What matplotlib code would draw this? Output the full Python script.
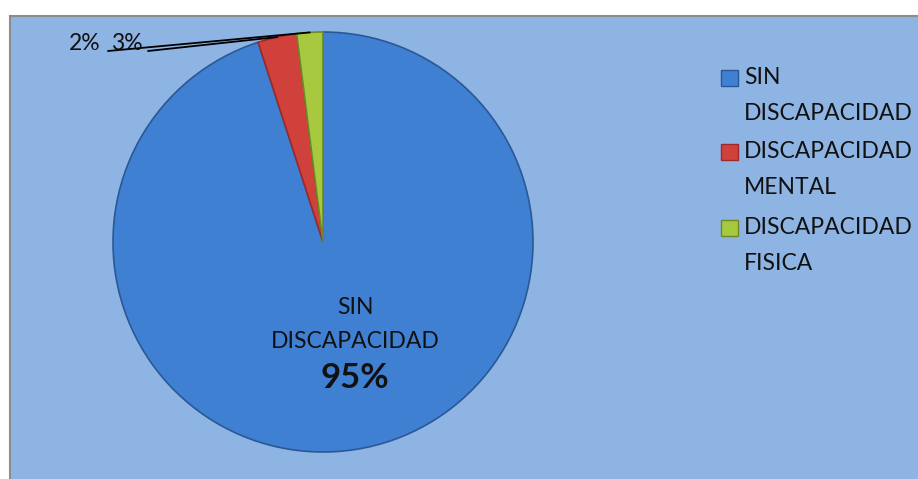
import matplotlib
matplotlib.use("Agg")
import matplotlib.pyplot as plt
import numpy as np
from matplotlib.patches import Rectangle

categories = ["SIN\nDISCAPACIDAD", "DISCAPACIDAD\nMENTAL", "DISCAPACIDAD\nFISICA"]
values = [95, 3, 2]
colors = ["#4080d2", "#d1413b", "#a6c93f"]
edge_colors = ["#2a5896", "#9c2a26", "#6f8a25"]

plt.rcParams['font.family'] = ['Lato', 'DejaVu Sans']

W, H = 918, 479
fig = plt.figure(figsize=(W / 100, H / 100), dpi=100)
fig.patch.set_facecolor("white")


def fx(px):
    return px / W


def fy(py):
    return 1 - py / H


# background panel
bgax = fig.add_axes([9.5 / W, 0, 1 - 9.5 / W + 0.01, (H - 15.5) / H], zorder=0)
bgax.set_facecolor("#8eb4e3")
bgax.set_xticks([])
bgax.set_yticks([])
for name, s in bgax.spines.items():
    if name in ("left", "top"):
        s.set_color("#8c8c8c")
        s.set_linewidth(1.5)
    else:
        s.set_visible(False)

cx, cy, r = 323, H - 242, 210
ax = fig.add_axes([(cx - r) / W, (cy - r) / H, 2 * r / W, 2 * r / H], zorder=1)

wedges, _ = ax.pie(values, colors=colors, startangle=90, counterclock=False, radius=1,
                   wedgeprops=dict(linewidth=1.2))
for w, ec in zip(wedges, edge_colors):
    w.set_edgecolor(ec)
ax.set_xlim(-1, 1)
ax.set_ylim(-1, 1)
ax.set_aspect("equal")
ax.axis("off")

# Main label
fig.text(fx(355), fy(308), "SIN", ha="center", va="center", fontsize=16.5, color="#111111", zorder=5)
fig.text(fx(355), fy(341), "DISCAPACIDAD", ha="center", va="center", fontsize=16.5,
         color="#111111", zorder=5)
fig.text(fx(355), fy(378), f"{values[0]}%", ha="center", va="center", fontsize=25,
         fontweight="bold", color="#111111", zorder=5)

# Small slice labels with leader lines
label_pos = {2: (85, 43), 1: (127, 43)}
line_start = {2: (108, 51), 1: (148, 51)}
for i in (2, 1):
    w = wedges[i]
    ang = np.deg2rad((w.theta1 + w.theta2) / 2)
    x, y = np.cos(ang), np.sin(ang)
    tx, ty = label_pos[i]
    fig.text(fx(tx), fy(ty), f"{values[i]}%", ha="center", va="center", fontsize=16.5,
             color="#111111", zorder=5)
    sx, sy = line_start[i]
    ax.annotate("", xy=(x, y), xytext=(fx(sx), fy(sy)), textcoords=fig.transFigure,
                annotation_clip=False,
                arrowprops=dict(arrowstyle="-", color="black", lw=1.3, shrinkA=0, shrinkB=0))

# Legend (markers aligned with first line of each entry, as in the original)
entry_y = [78, 152, 228]
for lab, col, ec, yy in zip(categories, colors, edge_colors, entry_y):
    fig.patches.append(Rectangle((fx(721), fy(yy + 8)), 17 / W, 16 / H, transform=fig.transFigure,
                                 facecolor=col, edgecolor=ec, linewidth=1, zorder=5))
    first, second = lab.split("\n")
    fig.text(fx(744), fy(yy), first, ha="left", va="center", fontsize=16.5, color="#111111", zorder=5)
    fig.text(fx(744), fy(yy + 35), second, ha="left", va="center", fontsize=16.5, color="#111111",
             zorder=5)

fig.savefig("out.png", dpi=100)
